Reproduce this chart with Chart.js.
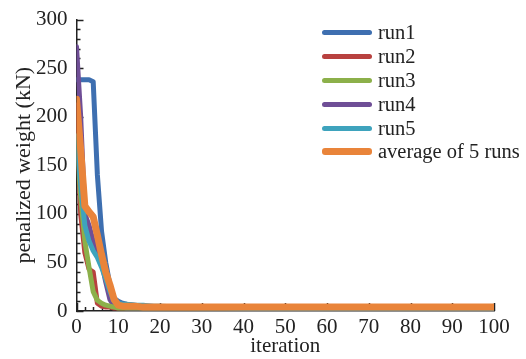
<!DOCTYPE html>
<html>
<head>
<meta charset="utf-8">
<script src="https://cdn.jsdelivr.net/npm/chart.js@4/dist/chart.umd.min.js"></script>
<style>
  html, body { margin: 0; padding: 0; background: #fff; }
  #wrap { position: relative; width: 526px; height: 359px; }
  #legend { position: absolute; left: 322px; top: 21px; font-family: 'Liberation Serif', serif; font-size: 20.5px; color: #222; }
  .row { height: 23.8px; display: flex; align-items: center; white-space: nowrap; }
  .sw { width: 50px; border-radius: 3px; margin-right: 6px; }
</style>
</head>
<body>
<div id="wrap">
  <canvas id="chart" width="526" height="359"></canvas>
  <div id="legend"></div>
</div>
<script>
const iterations = [0, 1, 2, 3, 4, 5, 6, 7, 8, 9, 10, 11, 12, 14, 16, 18, 20, 25, 30, 40, 50, 60, 70, 80, 90, 100];
const run1 = [238, 238, 238, 238, 236, 140, 82, 50, 27, 13, 10, 8, 7, 6, 5, 5, 4, 4, 3, 3, 3, 3, 3, 3, 3, 3];
const run2 = [212, 100, 60, 43, 40, 8, 5, 4, 4, 3, 3, 3, 3, 3, 3, 3, 3, 3, 3, 3, 3, 3, 3, 3, 3, 3];
const run3 = [180, 118, 72, 45, 20, 11, 8, 6, 5, 4, 3, 3, 3, 3, 3, 3, 3, 3, 3, 3, 3, 3, 3, 3, 3, 3];
const run4 = [272, 200, 100, 88, 72, 60, 50, 30, 12, 5, 4, 4, 3, 3, 3, 3, 3, 3, 3, 3, 3, 3, 3, 3, 3, 3];
const run5 = [180, 130, 88, 72, 62, 55, 45, 33, 20, 10, 8, 7, 7, 6, 6, 5, 5, 4, 4, 3, 3, 3, 3, 3, 3, 3];
const average = [218, 166, 108, 102, 97, 78, 58, 40, 27, 12, 6, 5, 5, 5, 4, 4, 4, 4, 4, 4, 4, 4, 4, 4, 4, 4];

const seriesNames = ['run1', 'run2', 'run3', 'run4', 'run5', 'average of 5 runs'];
const seriesValues = [run1, run2, run3, run4, run5, average];
const seriesColors = ['#3e6fb0', '#b8413f', '#8cb04a', '#6f4e96', '#3ea3bd', '#e9843a'];
const seriesWidths = [5, 5, 5, 5, 5, 7];
const drawOrder = [5, 6, 3, 4, 2, 1]; // lower = drawn on top

const serif = "'Liberation Serif', 'Times New Roman', serif";

// inward tick marks like the original figure
const innerTicks = {
    id: 'innerTicks',
    beforeDatasetsDraw(chart) {
        const ctx = chart.ctx;
        const xs = chart.scales.x;
        const ys = chart.scales.y;
        ctx.save();
        ctx.strokeStyle = '#222';
        ctx.lineWidth = 1.5;
        ctx.beginPath();
        for (let v = 0; v <= 300; v += 10) {
            const len = v % 50 === 0 ? 7 : 4;
            const py = Math.round(ys.getPixelForValue(v)) + 0.5;
            ctx.moveTo(xs.left, py);
            ctx.lineTo(xs.left + len, py);
        }
        for (let v = 0; v <= 100; v += 2) {
            const len = v % 10 === 0 ? 8 : 4;
            const px = Math.round(xs.getPixelForValue(v)) + 0.5;
            ctx.moveTo(px, ys.bottom);
            ctx.lineTo(px, ys.bottom - len);
        }
        ctx.stroke();
        ctx.restore();
    }
};

const datasets = seriesNames.map((name, i) => ({
    label: name,
    data: iterations.map((it, j) => ({ x: it, y: seriesValues[i][j] })),
    borderColor: seriesColors[i],
    backgroundColor: seriesColors[i],
    borderWidth: seriesWidths[i],
    pointRadius: 0,
    tension: 0,
    borderJoinStyle: 'round',
    borderCapStyle: 'round',
    order: drawOrder[i]
}));

new Chart(document.getElementById('chart'), {
    type: 'line',
    data: { datasets: datasets },
    options: {
        responsive: false,
        animation: false,
        devicePixelRatio: 1,
        layout: { padding: { top: 17, right: 32, left: 13, bottom: 2 } },
        plugins: {
            legend: { display: false },
            tooltip: { enabled: false }
        },
        scales: {
            x: {
                type: 'linear',
                min: 0,
                max: 100,
                grid: { display: false, drawTicks: false },
                border: { display: true, color: '#222', width: 1.5 },
                ticks: { stepSize: 10, color: '#222', padding: 6, maxRotation: 0, font: { family: serif, size: 21, lineHeight: 1 } },
                title: { display: true, text: 'iteration', color: '#222', padding: { top: -8, bottom: 0 }, font: { family: serif, size: 21, lineHeight: 1 } }
            },
            y: {
                min: 0,
                max: 300,
                grid: { display: false, drawTicks: false },
                border: { display: true, color: '#222', width: 1.5 },
                ticks: { stepSize: 50, color: '#222', padding: 9, font: { family: serif, size: 21, lineHeight: 1 } },
                title: { display: true, text: 'penalized weight (kN)', color: '#222', padding: { top: 0, bottom: -8 }, font: { family: serif, size: 22, lineHeight: 1 } }
            }
        }
    },
    plugins: [innerTicks]
});

const legendBox = document.getElementById('legend');
seriesNames.forEach((name, i) => {
    const row = document.createElement('div');
    row.className = 'row';
    const sw = document.createElement('div');
    sw.className = 'sw';
    sw.style.height = (i === 5 ? 7 : 5) + 'px';
    sw.style.background = seriesColors[i];
    const txt = document.createElement('span');
    txt.textContent = name;
    row.appendChild(sw);
    row.appendChild(txt);
    legendBox.appendChild(row);
});
</script>
</body>
</html>
